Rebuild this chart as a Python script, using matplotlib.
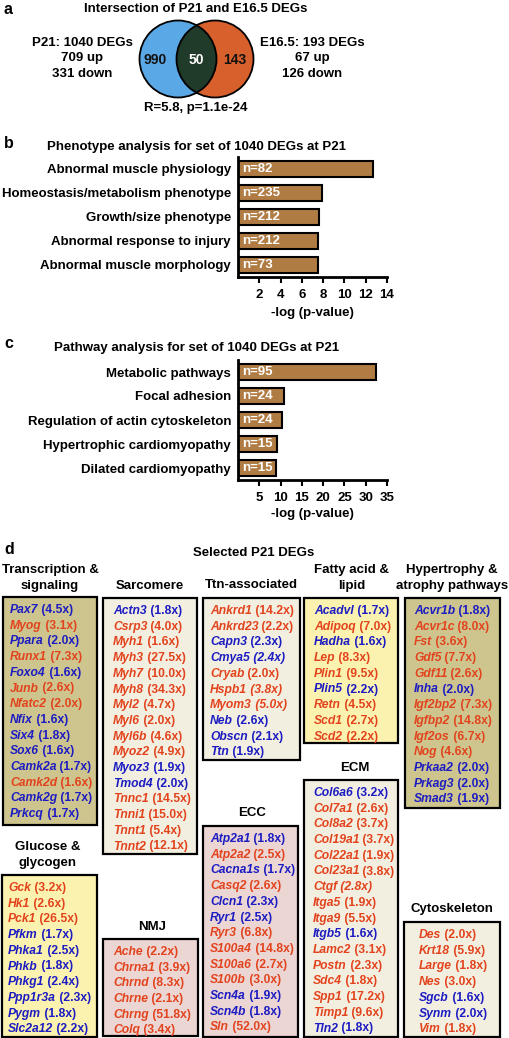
import matplotlib
matplotlib.use("Agg")
import matplotlib.pyplot as plt
from matplotlib.patches import Circle, Rectangle

plt.rcParams['font.family'] = ['Liberation Sans', 'DejaVu Sans']
plt.rcParams['font.weight'] = 'bold'

W, H = 509, 1038

# ---- panel a: venn ----
venn_counts = [990, 50, 143]
p21_info = ["P21: 1040 DEGs", "709 up", "331 down"]
e16_info = ["E16.5: 193 DEGs", "67 up", "126 down"]
venn_stat = "R=5.8, p=1.1e-24"

# ---- panel b / c: bars ----
pheno_terms = ["Abnormal muscle physiology", "Homeostasis/metabolism phenotype",
               "Growth/size phenotype", "Abnormal response to injury",
               "Abnormal muscle morphology"]
pheno_logp = [12.7, 7.9, 7.6, 7.55, 7.5]
pheno_n = [82, 235, 212, 212, 73]

path_terms = ["Metabolic pathways", "Focal adhesion", "Regulation of actin cytoskeleton",
              "Hypertrophic cardiomyopathy", "Dilated cardiomyopathy"]
path_logp = [32.4, 10.9, 10.3, 9.2, 8.9]
path_n = [95, 24, 24, 15, 15]

# ---- panel d: selected genes (U = up/red, D = down/blue) ----
transcription_genes = ["Pax7", "Myog", "Ppara", "Runx1", "Foxo4", "Junb", "Nfatc2", "Nfix",
                       "Six4", "Sox6", "Camk2a", "Camk2d", "Camk2g", "Prkcq"]
transcription_fold = [4.5, 3.1, 2.0, 7.3, 1.6, 2.6, 2.0, 1.6, 1.8, 1.6, 1.7, 1.6, 1.7, 1.7]
transcription_dir = "DUDUDUUDDDDUDD"

sarcomere_genes = ["Actn3", "Csrp3", "Myh1", "Myh3", "Myh7", "Myh8", "Myl2", "Myl6", "Myl6b",
                   "Myoz2", "Myoz3", "Tmod4", "Tnnc1", "Tnni1", "Tnnt1", "Tnnt2"]
sarcomere_fold = [1.8, 4.0, 1.6, 27.5, 10.0, 34.3, 4.7, 2.0, 4.6, 4.9, 1.9, 2.0, 14.5, 15.0, 5.4, 12.1]
sarcomere_dir = "DUUUUUUUUUDDUUUU"

ttn_genes = ["Ankrd1", "Ankrd23", "Capn3", "Cmya5", "Cryab", "Hspb1", "Myom3", "Neb", "Obscn", "Ttn"]
ttn_fold = [14.2, 2.2, 2.3, 2.4, 2.0, 3.8, 5.0, 2.6, 2.1, 1.9]
ttn_dir = "UUDDUUUDDD"

fatty_genes = ["Acadvl", "Adipoq", "Hadha", "Lep", "Plin1", "Plin5", "Retn", "Scd1", "Scd2"]
fatty_fold = [1.7, 7.0, 1.6, 8.3, 9.5, 2.2, 4.5, 2.7, 2.2]
fatty_dir = "DUDUUDUUU"

hyper_genes = ["Acvr1b", "Acvr1c", "Fst", "Gdf5", "Gdf11", "Inha", "Igf2bp2", "Igfbp2",
               "Igf2os", "Nog", "Prkaa2", "Prkag3", "Smad3"]
hyper_fold = [1.8, 8.0, 3.6, 7.7, 2.6, 2.0, 7.3, 14.8, 6.7, 4.6, 2.0, 2.0, 1.9]
hyper_dir = "DUUUUDUUUUDDD"

glucose_genes = ["Gck", "Hk1", "Pck1", "Pfkm", "Phka1", "Phkb", "Phkg1", "Ppp1r3a", "Pygm", "Slc2a12"]
glucose_fold = [3.2, 2.6, 26.5, 1.7, 2.5, 1.8, 2.4, 2.3, 1.8, 2.2]
glucose_dir = "UUUDDDDDDD"

nmj_genes = ["Ache", "Chrna1", "Chrnd", "Chrne", "Chrng", "Colq"]
nmj_fold = [2.2, 3.9, 8.3, 2.1, 51.8, 3.4]
nmj_dir = "UUUUUU"

ecc_genes = ["Atp2a1", "Atp2a2", "Cacna1s", "Casq2", "Clcn1", "Ryr1", "Ryr3", "S100a4",
             "S100a6", "S100b", "Scn4a", "Scn4b", "Sln"]
ecc_fold = [1.8, 2.5, 1.7, 2.6, 2.3, 2.5, 6.8, 14.8, 2.7, 3.0, 1.9, 1.8, 52.0]
ecc_dir = "DUDUDDUUUUDDU"

ecm_genes = ["Col6a6", "Col7a1", "Col8a2", "Col19a1", "Col22a1", "Col23a1", "Ctgf", "Itga5",
             "Itga9", "Itgb5", "Lamc2", "Postn", "Sdc4", "Spp1", "Timp1", "Tln2"]
ecm_fold = [3.2, 2.6, 3.7, 3.7, 1.9, 3.8, 2.8, 1.9, 5.5, 1.6, 3.1, 2.3, 1.8, 17.2, 9.6, 1.8]
ecm_dir = "DUUUUUUUUDUUUUUD"

cyto_genes = ["Des", "Krt18", "Large", "Nes", "Sgcb", "Synm", "Vim"]
cyto_fold = [2.0, 5.9, 1.8, 3.0, 1.6, 2.0, 1.8]
cyto_dir = "UUUUDDU"

italic_fold = {"Cmya5", "Hspb1", "Myom3", "Ctgf"}

RED = "#E2431D"
BLUE = "#1C1CC2"
OLIVE = "#CEC58E"
CREAM = "#F3EFE0"
YELLOW = "#FBF2B0"
PINK = "#EBD6D4"
BROWN = "#B07C44"
FS = 9.5
GFS = 8.7


def px_rect(x0, y0, x1, y1):
    return [x0 / W, 1 - y1 / H, (x1 - x0) / W, (y1 - y0) / H]


fig = plt.figure(figsize=(W / 100, H / 100), dpi=100)
ax = fig.add_axes([0, 0, 1, 1])
ax.set_xlim(0, W)
ax.set_ylim(H, 0)
ax.axis('off')
renderer = fig.canvas.get_renderer()

for lab, y in [("a", 9), ("b", 143), ("c", 343), ("d", 549)]:
    ax.text(4, y, lab, fontsize=11.5, va='center', ha='left')

# venn
ax.text(196, 9, "Intersection of P21 and E16.5 DEGs", fontsize=FS, ha='center', va='center')
blue_c = Circle((178, 59), 38.5, facecolor="#5BA8E7", edgecolor='none')
orange_c = Circle((215, 59), 38.5, facecolor="#D8602C", edgecolor='none')
ax.add_patch(blue_c)
ax.add_patch(orange_c)
dark = Circle((178, 59), 38.5, facecolor="#213B2B", edgecolor='none')
ax.add_patch(dark)
clipper = Circle((215, 59), 38.5, facecolor='none', edgecolor='none', transform=ax.transData)
ax.add_patch(clipper)
dark.set_clip_path(clipper)
for cx in (178, 215):
    ax.add_patch(Circle((cx, 59), 38.5, facecolor='none', edgecolor='black', linewidth=1.3))
ax.text(155, 60, str(venn_counts[0]), fontsize=10, ha='center', va='center', color='#111111')
ax.text(196, 60, str(venn_counts[1]), fontsize=10, ha='center', va='center', color='white')
ax.text(235, 60, str(venn_counts[2]), fontsize=10, ha='center', va='center', color='#111111')
for i, s in enumerate(p21_info):
    ax.text(82, 43 + i * 15.5, s, fontsize=FS, ha='center', va='center')
for i, s in enumerate(e16_info):
    ax.text(312, 43 + i * 15.5, s, fontsize=FS, ha='center', va='center')
ax.text(196, 108, venn_stat, fontsize=FS, ha='center', va='center')


def bar_panel(rect, terms, vals, ns, xmax, ticks, title, title_y, xlabel_y):
    b = fig.add_axes(px_rect(*rect))
    b.patch.set_alpha(0)
    pos = list(range(len(terms)))
    b.barh(pos, vals, height=0.68, color=BROWN, edgecolor='black', linewidth=1.5)
    b.set_xlim(0, xmax)
    b.set_ylim(len(terms) - 0.5, -0.5)
    b.set_xticks(ticks)
    b.set_xticklabels([str(t) for t in ticks], fontsize=FS)
    b.set_yticks(pos)
    b.set_yticklabels(terms, fontsize=FS)
    b.tick_params(axis='y', length=0, pad=5)
    b.tick_params(axis='x', length=4, width=1.5, pad=4.5)
    for s in ('top', 'right'):
        b.spines[s].set_visible(False)
    for s in ('left', 'bottom'):
        b.spines[s].set_linewidth(2)
    for i, n in enumerate(ns):
        b.annotate(f"n={n}", xy=(0, i), xytext=(4, 0), textcoords='offset pixels',
                   color='white', fontsize=FS, va='center', ha='left')
    ax.text(197, title_y, title, fontsize=FS, ha='center', va='center')
    ax.text((rect[0] + rect[2]) / 2, xlabel_y, "-log (p-value)", fontsize=FS, ha='center', va='center')


bar_panel((238, 157, 387, 277), pheno_terms, pheno_logp, pheno_n, 14, [2, 4, 6, 8, 10, 12, 14],
          "Phenotype analysis for set of 1040 DEGs at P21", 147, 313)
bar_panel((238, 360, 387, 480), path_terms, path_logp, path_n, 35, [5, 10, 15, 20, 25, 30, 35],
          "Pathway analysis for set of 1040 DEGs at P21", 348, 514)

# panel d
ax.text(254, 553, "Selected P21 DEGs", fontsize=FS, ha='center', va='center')

groups = [
    (["Transcription &", "signaling"], 50, 570, (3, 597, 97, 825), OLIVE, 10,
     transcription_genes, transcription_fold, transcription_dir),
    (["Sarcomere"], 150, 586, (103, 598, 197, 854), CREAM, 113,
     sarcomere_genes, sarcomere_fold, sarcomere_dir),
    (["Ttn-associated"], 251, 585, (203, 598, 300, 760), CREAM, 210,
     ttn_genes, ttn_fold, ttn_dir),
    (["Fatty acid &", "lipid"], 352, 570, (304, 598, 398, 743), YELLOW, 314,
     fatty_genes, fatty_fold, fatty_dir),
    (["Hypertrophy &", "atrophy pathways"], 452, 570, (405, 598, 500, 808), OLIVE, 414,
     hyper_genes, hyper_fold, hyper_dir),
    (["Glucose &", "glycogen"], 48, 847, (2, 875, 97, 1037), YELLOW, 8,
     glucose_genes, glucose_fold, glucose_dir),
    (["NMJ"], 152, 927, (103, 939, 198, 1036), PINK, 113,
     nmj_genes, nmj_fold, nmj_dir),
    (["ECC"], 252, 813, (203, 826, 298, 1037), PINK, 210,
     ecc_genes, ecc_fold, ecc_dir),
    (["ECM"], 355, 768, (304, 780, 398, 1037), CREAM, 313,
     ecm_genes, ecm_fold, ecm_dir),
    (["Cytoskeleton"], 452, 909, (404, 922, 500, 1037), CREAM, 419,
     cyto_genes, cyto_fold, cyto_dir),
]

inv = ax.transData.inverted()
for header, hx, hy, box, fill, tx, genes, folds, dirs in groups:
    for k, line in enumerate(header):
        ax.text(hx, hy + k * 16, line, fontsize=FS, ha='center', va='center')
    x0, y0, x1, y1 = box
    ax.add_patch(Rectangle((x0, y0), x1 - x0, y1 - y0, facecolor=fill,
                           edgecolor='black', linewidth=1.6))
    for i, (g, f, d) in enumerate(zip(genes, folds, dirs)):
        y = y0 + 11.5 + i * 15.7
        col = RED if d == "U" else BLUE
        t = ax.text(tx, y, g, fontsize=GFS, style='italic', color=col,
                    ha='left', va='center_baseline')
        bb = t.get_window_extent(renderer)
        xe = inv.transform((bb.x1, bb.y0))[0]
        ax.text(xe, y, f" ({f:.1f}x)", fontsize=GFS, color=col, ha='left',
                va='center_baseline', style='italic' if g in italic_fold else 'normal')

fig.savefig("out.png", dpi=100)
